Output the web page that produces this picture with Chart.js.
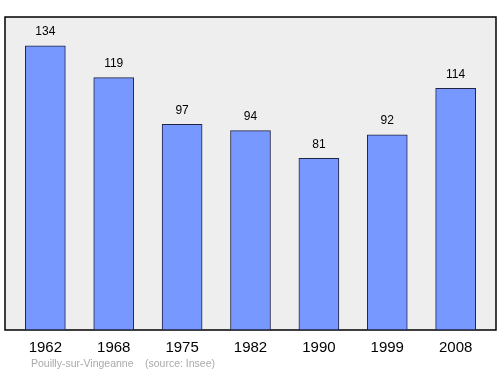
<!DOCTYPE html>
<html>
<head>
<meta charset="utf-8">
<script src="https://cdn.jsdelivr.net/npm/chart.js@4"></script>
<style>
  html, body { margin: 0; padding: 0; background: #fff; }
  #wrap { width: 500px; height: 374px; }
</style>
</head>
<body>
<div id="wrap"><canvas id="popChart"></canvas></div>
<script>
const years = ['1962', '1968', '1975', '1982', '1990', '1999', '2008'];
const population = [134, 119, 97, 94, 81, 92, 114];
const townName = 'Pouilly-sur-Vingeanne';
const sourceText = '(source: Insee)';

const plotBackground = {
    id: 'plotBackground',
    beforeDatasetsDraw(chart) {
        const { ctx, chartArea: a } = chart;
        ctx.save();
        ctx.fillStyle = '#eeeeee';
        ctx.fillRect(a.left, a.top, a.right - a.left, a.bottom - a.top);
        ctx.strokeStyle = '#000';
        ctx.lineWidth = 1.5;
        ctx.strokeRect(a.left, a.top, a.right - a.left, a.bottom - a.top);
        ctx.restore();
    }
};

const valueLabels = {
    id: 'valueLabels',
    afterDatasetsDraw(chart) {
        const { ctx } = chart;
        const meta = chart.getDatasetMeta(0);
        ctx.save();
        ctx.fillStyle = '#000';
        ctx.font = '12px "Liberation Sans", Arial, sans-serif';
        ctx.textAlign = 'center';
        ctx.textBaseline = 'middle';
        meta.data.forEach((bar, i) => {
            ctx.fillText(String(population[i]), bar.x, bar.y - 14);
        });
        ctx.restore();
    }
};

const footer = {
    id: 'footer',
    afterDraw(chart) {
        const { ctx } = chart;
        ctx.save();
        ctx.fillStyle = '#aaaaaa';
        ctx.font = '10.5px "Liberation Sans", Arial, sans-serif';
        ctx.textAlign = 'left';
        ctx.textBaseline = 'middle';
        ctx.fillText(townName, 31, 364);
        ctx.fillText(sourceText, 145, 364);
        ctx.restore();
    }
};

const ctx = document.getElementById('popChart').getContext('2d');
const popChart = new Chart(ctx, {
    type: 'bar',
    data: {
        datasets: [{
            data: population.map((v, i) => ({ x: i, y: v })),
            backgroundColor: '#7799ff',
            borderColor: '#222244',
            borderWidth: 1,
            borderSkipped: false,
            barThickness: 40
        }]
    },
    options: {
        responsive: true,
        maintainAspectRatio: false,
        animation: false,
        layout: {
            padding: { left: 5, right: 4, top: 17, bottom: 0 }
        },
        scales: {
            x: {
                type: 'linear',
                offset: false,
                min: -0.59,
                max: 6.59,
                grid: { display: false, drawTicks: false, offset: false },
                border: { display: false },
                afterBuildTicks: axis => {
                    axis.ticks = years.map((y, i) => ({ value: i }));
                },
                afterFit: axis => {
                    axis.height = 44;
                },
                ticks: {
                    padding: 9,
                    color: '#000',
                    font: { family: '"Liberation Sans", Arial, sans-serif', size: 15 },
                    maxRotation: 0,
                    callback: value => years[value]
                }
            },
            y: {
                display: false,
                min: 0,
                max: 147.6
            }
        },
        plugins: {
            legend: { display: false },
            tooltip: { enabled: false }
        }
    },
    plugins: [plotBackground, valueLabels, footer]
});
</script>
</body>
</html>
